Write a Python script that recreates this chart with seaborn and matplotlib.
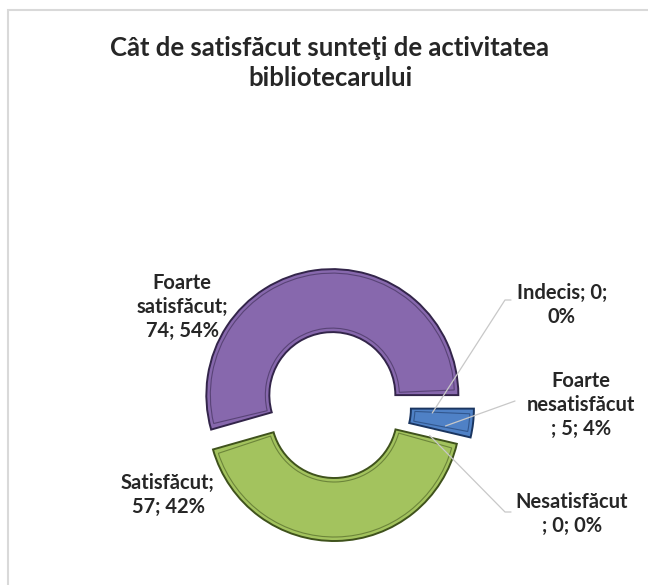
import numpy as np
import matplotlib
matplotlib.use("Agg")
import matplotlib.pyplot as plt
import matplotlib.patches as mpatches
import seaborn as sns

# data
categories = ["Foarte satisfăcut", "Satisfăcut", "Nesatisfăcut", "Foarte nesatisfăcut", "Indecis"]
counts = [74, 57, 0, 5, 0]
percents = [54, 42, 0, 4, 0]
title = "Cât de satisfăcut sunteţi de activitatea\nbibliotecarului"

# style
colors = ["#8768ad", "#a3c35e", "#a3c35e", "#4f81c6", "#4f81c6"]
edges = ["#33254a", "#3f521c", "#3f521c", "#1a3560", "#1a3560"]
explode = [12, 8, 0, 14, 0]
text_color = "#262626"

W, H = 648, 585
cx, cy, R = 334, H - 407, 126
ring = R * 0.5

sns.set_theme(style="white")
plt.rcParams["font.family"] = ["Lato", "DejaVu Sans"]

fig = plt.figure(figsize=(W / 100, H / 100), dpi=100)
ax = fig.add_axes([0, 0, 1, 1])

# chart area frame
fig.patches.append(mpatches.Rectangle((8 / W, -0.05), 1.1, 1 - 10 / H + 0.05,
                                      transform=fig.transFigure, fill=False,
                                      edgecolor="#d9d9d9", lw=1.5))

wedges, _ = ax.pie(counts, colors=colors, explode=explode, startangle=0,
                   counterclock=True, radius=R, center=(cx, cy),
                   wedgeprops=dict(width=ring, linewidth=1.4))
for w, ec, n in zip(wedges, edges, counts):
    w.set_edgecolor(ec)
    if n == 0:
        w.set_visible(False)
    else:
        # inner bevel outline
        inset = 4
        dth = np.rad2deg(inset / (R - ring / 2))
        bevel = mpatches.Wedge(w.center, w.r - inset, w.theta1 + dth, w.theta2 - dth,
                               width=w.width - 2 * inset, fill=False,
                               edgecolor=ec, lw=0.8, alpha=0.55)
        ax.add_patch(bevel)

ax.set_xlim(0, W)
ax.set_ylim(0, H)
ax.set_aspect("equal")
ax.axis("off")

fig.text(330 / W, 1 - 63 / H, title, ha="center", va="center",
         fontsize=18.5, fontweight="bold", color=text_color, linespacing=1.3)

# labels (pixel positions from the top-left corner)
label_text = [
    f"Foarte\nsatisfăcut;\n{counts[0]}; {percents[0]}%",
    f"Satisfăcut;\n{counts[1]}; {percents[1]}%",
    f"Nesatisfăcut\n; {counts[2]}; {percents[2]}%",
    f"Foarte\nnesatisfăcut\n; {counts[3]}; {percents[3]}%",
    f"Indecis; {counts[4]};\n{percents[4]}%",
]
label_pos = [(182, 307), (168, 495), (572, 514), (581, 405), (562, 305)]
for txt, (lx, ly) in zip(label_text, label_pos):
    ax.text(lx, H - ly, txt, ha="center", va="center", fontsize=14.5,
            fontweight="bold", color=text_color, linespacing=1.25)

# leader lines for the small slices
total = sum(counts)
bounds = np.concatenate([[0], np.cumsum(counts)]) / total * 360
anchors = {2: (505, 512), 3: (515, 401), 4: (505, 300)}
for i, (axx, ayy) in anchors.items():
    mid = np.deg2rad((bounds[i] + bounds[i + 1]) / 2)
    ox = cx + explode[i] * np.cos(mid)
    oy = cy + explode[i] * np.sin(mid)
    px = ox + R * 0.78 * np.cos(mid)
    py = oy + R * 0.78 * np.sin(mid) - 6
    xs = [px, axx]
    ys = [py, H - ayy]
    if i != 3:
        xs.append(axx + 6)
        ys.append(H - ayy)
    ax.plot(xs, ys, color="#c8c8c8", lw=0.9, zorder=5)

fig.savefig("out.png", dpi=100, facecolor="white")
